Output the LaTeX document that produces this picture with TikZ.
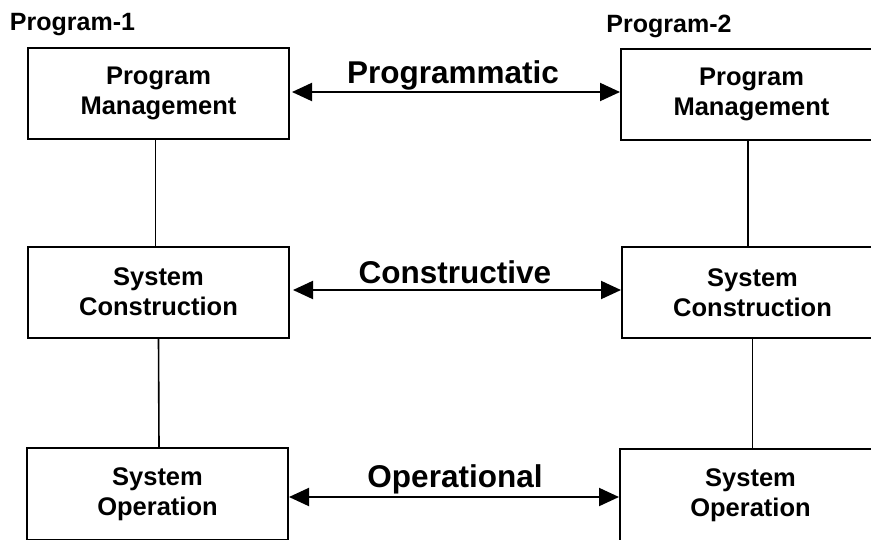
\documentclass[tikz,border=0pt]{standalone}
\usepackage{fontspec}
\setmainfont{Liberation Sans}
\usetikzlibrary{arrows.meta}
\tikzset{
  box/.style={draw=black, line width=2pt, minimum width=261pt, minimum height=91pt,
    inner sep=0pt, align=center, font=\fontsize{25.5}{30}\selectfont\bfseries},
  link/.style={draw=black, line width=1.6pt},
  arr/.style={draw=black, line width=2pt, {Triangle[length=20pt,width=18pt]}-{Triangle[length=20pt,width=18pt]}},
  lbl/.style={anchor=base, inner sep=0pt, font=\fontsize{31.5}{36}\selectfont\bfseries},
  prog/.style={anchor=base, inner sep=0pt, font=\fontsize{25}{30}\selectfont\bfseries}
}
\begin{document}
\begin{tikzpicture}[x=1pt,y=-1pt]
\path[use as bounding box, clip] (0,0) rectangle (871,539);
\fill[white] (0,0) rectangle (871,539);
% titles
\node[prog] (t1) at (72.5,30) {Program-1};
\node[prog] (t2) at (669,32) {Program-2};
% left column
\node[box] (pm1) at (158.5,93.5) {Program\\Management};
\node[box] (sc1) at (158.5,292) {System\\Construction};
\node[box, minimum height=92pt] (op1) at (157.5,494) {System\\Operation};
% right column
\node[box] (pm2) at (751.5,94.5) {Program\\Management};
\node[box] (sc2) at (752.5,292.5) {System\\Construction};
\node[box, minimum height=92pt] (op2) at (750.5,495) {System\\Operation};
% vertical links
\draw[link] ([xshift=-3pt]pm1.south) -- ([xshift=-3pt]pm1.south |- sc1.north);
\draw[link] (sc1.south) -- ([xshift=0.5pt]sc1.south |- op1.north);
\draw[link] ([xshift=-3.5pt]pm2.south) -- ([xshift=-3.5pt]pm2.south |- sc2.north);
\draw[link] (sc2.south) -- (sc2.south |- op2.north);
% horizontal arrows
\draw[arr] ([xshift=2pt,yshift=1.5pt]pm1.east) -- ([yshift=1.5pt]pm1.east -| pm2.west);
\draw[arr] ([xshift=3pt,yshift=2pt]sc1.east) -- ([yshift=2pt]sc1.east -| sc2.west);
\draw[arr] ([yshift=-3pt]op1.east) -- ([yshift=-3pt]op1.east -| op2.west);
% labels
\node[lbl] (l1) at (453,83) {Programmatic};
\node[lbl] (l2) at (455,283) {Constructive};
\node[lbl] (l3) at (455,487) {Operational};
\end{tikzpicture}
\end{document}
